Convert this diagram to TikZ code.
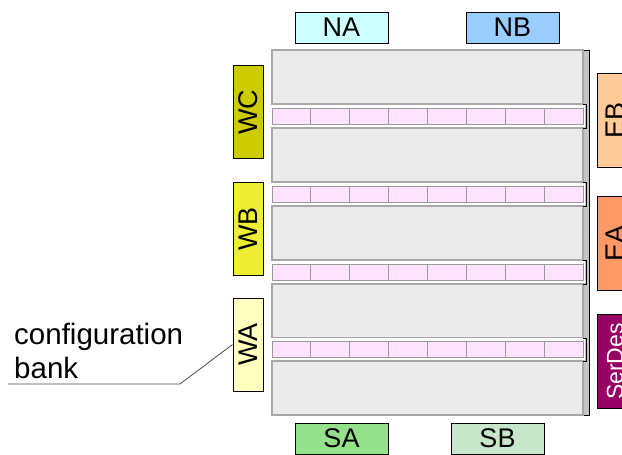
\documentclass[tikz,border=0pt]{standalone}
\usepackage{fontspec}
\setmainfont{Liberation Sans}
\definecolor{panelgray}{HTML}{EBEBEB}
\definecolor{edgegray}{HTML}{A8A8A8}
\definecolor{cellpink}{HTML}{FDE3FD}
\definecolor{cellgray}{HTML}{9A9A9A}
\definecolor{stripgray}{HTML}{C4C4C4}
\definecolor{cNA}{HTML}{CCFFFF}
\definecolor{cNB}{HTML}{99CCFF}
\definecolor{cSA}{HTML}{95E08A}
\definecolor{cSB}{HTML}{C8E6C9}
\definecolor{cWC}{HTML}{CCCC00}
\definecolor{cWB}{HTML}{EEEE33}
\definecolor{cWA}{HTML}{FFFFC0}
\definecolor{cEB}{HTML}{FFCC99}
\definecolor{cEA}{HTML}{FF9966}
\definecolor{cSD}{HTML}{990066}
\begin{document}
\begin{tikzpicture}[x=1pt,y=-1pt,
  panel/.style={fill=panelgray, draw=edgegray, line width=1.2pt},
  cellbox/.style={fill=cellpink, draw=cellgray, line width=1pt},
  hport/.style={draw=black, line width=1pt, minimum width=93pt, minimum height=31pt, inner sep=0pt, font=\fontsize{27}{27}\selectfont},
  vport/.style={draw=black, line width=1pt, minimum width=93pt, minimum height=30pt, inner sep=0pt, rotate=90, font=\fontsize{27}{27}\selectfont},
  eport/.style={draw=black, line width=1pt, minimum width=94pt, minimum height=36pt, inner sep=0pt, rotate=90, font=\fontsize{27}{27}\selectfont}
]
\clip (0,0) rectangle (622,455);
\fill[white] (0,0) rectangle (622,455);

% right strip
\fill[stripgray] (583,50) rectangle (589.5,415);
\draw[black, line width=1pt] (583,50) -- (589.5,50) -- (589.5,415) -- (583,415);

% panels
\foreach \ya/\yb in {50/104,128/182,206/260,284/338,361/415}{
  \draw[panel] (272,\ya) rectangle (583,\yb);
}

% pink rows
\foreach \ya/\yb/\ga/\gb in {108/124/104/128,186/202/182/206,264/280/260/284,341/357/338/361}{
  \draw[white, line width=1.6pt] (270.5,\ya-2) rectangle (584.5,\yb+2);
  \foreach \i in {0,...,7}{
    \draw[cellbox] ({272+\i*38.875},\ya) rectangle ({272+(\i+1)*38.875},\yb);
  }
  \draw[black, line width=1pt] (583,\ga) -- (586,\ga) -- (586,\gb) -- (583,\gb);
}

% north / south ports
\node[hport, fill=cNA] (NA) at (341.5,27.5) {NA};
\node[hport, fill=cNB] (NB) at (512.5,27.5) {NB};
\node[hport, fill=cSA] (SA) at (341.5,438.5) {SA};
\node[hport, fill=cSB] (SB) at (497.5,438.5) {SB};

% west ports
\node[vport, fill=cWC] (WC) at (248,112) {WC};
\node[vport, fill=cWB] (WB) at (248,229) {WB};
\node[vport, fill=cWA] (WA) at (248,344.5) {WA};

% east ports
\node[eport, fill=cEB] (EB) at (615,120) {EB};
\node[eport, fill=cEA] (EA) at (615,243.5) {EA};
\node[eport, fill=cSD, text=white, font=\fontsize{23}{23}\selectfont] (SD) at (615,361.5) {SerDes};

% label and connector
\node[anchor=west, align=left, inner sep=0pt, font=\fontsize{29.5}{34}\selectfont] (cfg) at (14,351) {configuration\\bank};
\coordinate (cfgend) at (8,384);
\coordinate (cfgbend) at (180,384);
\draw[black!70, line width=0.8pt] (cfgend) -- (cfgbend) -- (WA.north);
\end{tikzpicture}
\end{document}
